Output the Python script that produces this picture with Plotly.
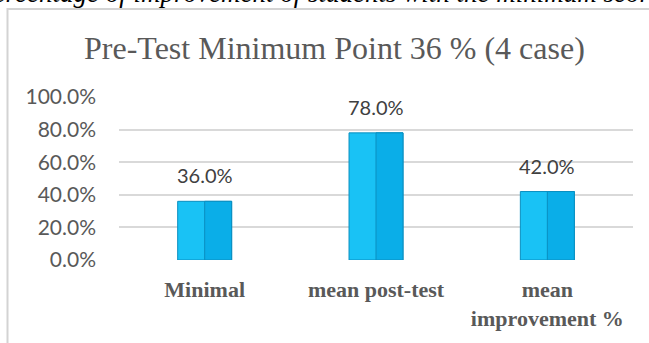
import plotly.graph_objects as go

categories = ["Minimal", "mean post-test", "mean<br>improvement %"]
values = [0.36, 0.78, 0.42]
y_ticks = [0, 0.2, 0.4, 0.6, 0.8, 1.0]
y_tick_labels = ["0.0%", "20.0%", "40.0%", "60.0%", "80.0%", "100.0%"]
title_text = "Pre-Test Minimum Point 36 % (4 case)"
caption_text = "Percentage of improvement of students with the minimum score"

W, H = 649, 343
L, R, T, B = 119, 16, 97, 80
pw, ph = W - L - R, H - T - B

def px_x(p):
    return (p - L) / pw

def px_y(p):
    return (H - B - p) / ph

bar_w = 0.315
fig = go.Figure()
fig.add_trace(go.Bar(
    x=categories, y=values, width=bar_w,
    marker=dict(color="#19C2F5", line=dict(color="#0A8FC0", width=1)),
    hoverinfo="skip",
))
fig.add_trace(go.Bar(
    x=categories, y=values, width=bar_w / 2, offset=0,
    marker=dict(color="#0AAEE8", line=dict(color="#0A8FC0", width=1)),
    hoverinfo="skip",
))

annotations = []
for c, v in zip(categories, values):
    annotations.append(dict(
        x=c, y=v, xref="x", yref="y", text=f"{v*100:.1f}%",
        showarrow=False, yanchor="bottom", yshift=12,
        font=dict(family="Lato", size=20, color="#404040"),
    ))
annotations.append(dict(
    x=px_x(334.5), xref="paper", y=px_y(47), yref="paper",
    text=title_text, showarrow=False, xanchor="center", yanchor="middle",
    font=dict(family="Liberation Serif", size=32, color="#595959"),
))
annotations.append(dict(
    x=px_x(-26), xref="paper", y=px_y(-9), yref="paper",
    text=f"<i>{caption_text}</i>", showarrow=False, xanchor="left", yanchor="middle",
    font=dict(family="Liberation Serif", size=27, color="#000000"),
))

shapes = [dict(
    type="rect", xref="paper", yref="paper",
    x0=px_x(7.5), x1=px_x(720), y0=px_y(7.5), y1=px_y(420),
    line=dict(color="#D3D3D3", width=2), fillcolor="rgba(0,0,0,0)", layer="below",
)]

fig.update_layout(
    width=W, height=H,
    margin=dict(l=L, r=R, t=T, b=B),
    paper_bgcolor="white", plot_bgcolor="white",
    showlegend=False, barmode="overlay",
    annotations=annotations, shapes=shapes,
    xaxis=dict(
        showgrid=False, showline=False, zeroline=False, ticks="",
        tickfont=dict(family="Liberation Serif", size=22, color="#595959", weight="bold"),
        ticklabelstandoff=14,
    ),
    yaxis=dict(
        range=[0, 1.0], tickvals=y_ticks, ticktext=y_tick_labels,
        showgrid=True, gridcolor="#D9D9D9", gridwidth=1.5, zeroline=False,
        showline=False, ticks="",
        tickfont=dict(family="Lato", size=21, color="#595959"),
        ticklabelstandoff=22,
    ),
)

fig.write_html("out.html")
